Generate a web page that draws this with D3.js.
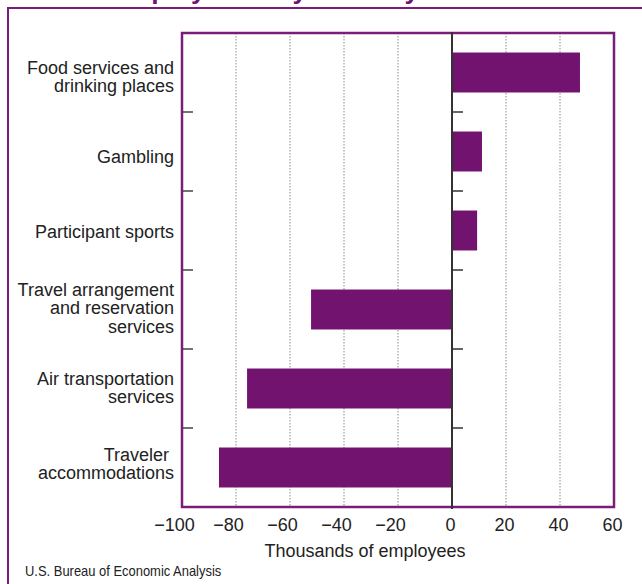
<!DOCTYPE html>
<html>
<head>
<meta charset="utf-8">
<script src="https://cdn.jsdelivr.net/npm/d3@7"></script>
<style>
  html, body { margin: 0; padding: 0; background: #fff; }
  svg { display: block; font-family: "Liberation Sans", Arial, Helvetica, sans-serif; }
</style>
</head>
<body>
<svg id="chart" width="642" height="584"></svg>
<script>
// Industries, top to bottom (each label line listed separately)
const categories = [
  ["Food services and", "drinking places"],
  ["Gambling"],
  ["Participant sports"],
  ["Travel arrangement", "and reservation", "services"],
  ["Air transportation", "services"],
  ["Traveler ", "accommodations"]
];
// Change in employment, thousands of employees
const values = [47.4, 11.1, 9.3, -52.2, -75.9, -86.3];
// Horizontal axis ticks
const xTicks = [-100, -80, -60, -40, -20, 0, 20, 40, 60];
const gridTicks = [-80, -60, -40, -20, 20, 40];

const titleText = "Tourism employment by industry";
const xTitle = "Thousands of employees";
const sourceText = "U.S. Bureau of Economic Analysis";

// Layout
const plot = { left: 182, right: 614, top: 33, bottom: 507 };
const labelRight = 174;
const labelSize = 18;
const lineGap = 18.4;
const labelNudge = [4.3, 4.8, 0.7, -1.6, -0.8, -4]; // vertical shifts of label blocks
const purple = "#731370";
const frame = "#7b1d78";
const ink = "#222";

const svg = d3.select("#chart");
const keys = categories.map(d => d.join(" "));

const x = d3.scaleLinear().domain([-100, 60]).range([plot.left, plot.right]);
const y = d3.scaleBand().domain(keys).range([plot.top, plot.bottom])
  .paddingInner(0.494).paddingOuter(0.247);

// Title (runs off the top of the page)
svg.append("text")
  .attr("x", 3).attr("y", -1.5)
  .attr("font-size", 26.5).attr("font-weight", "bold")
  .attr("fill", purple)
  .text(titleText);

// Outer border
svg.append("rect")
  .attr("x", 8).attr("y", 8).attr("width", 700).attr("height", 700)
  .attr("fill", "none").attr("stroke", frame).attr("stroke-width", 2);

// Dotted gridlines
svg.append("g").selectAll("line").data(gridTicks).join("line")
  .attr("x1", d => x(d)).attr("x2", d => x(d))
  .attr("y1", plot.top).attr("y2", plot.bottom)
  .attr("stroke", "#8a8a8a").attr("stroke-width", 1)
  .attr("stroke-dasharray", "1.5,1.5");

// Bars
svg.append("g").selectAll("rect").data(values).join("rect")
  .attr("x", d => x(Math.min(0, d)))
  .attr("width", d => Math.abs(x(d) - x(0)))
  .attr("y", (d, i) => y(keys[i]))
  .attr("height", y.bandwidth())
  .attr("fill", purple);

// Category boundary ticks
const step = y.step();
const bounds = d3.range(categories.length + 1).map(i => plot.top + i * step);
svg.append("g").selectAll("line").data(bounds).join("line")
  .attr("x1", plot.left).attr("x2", plot.left + 11)
  .attr("y1", d => d).attr("y2", d => d)
  .attr("stroke", "#444").attr("stroke-width", 1.5);
svg.append("g").selectAll("line").data(bounds).join("line")
  .attr("x1", x(0)).attr("x2", x(0) + 11)
  .attr("y1", d => d).attr("y2", d => d)
  .attr("stroke", "#333").attr("stroke-width", 1.5);

// Plot frame
svg.append("rect")
  .attr("x", plot.left).attr("y", plot.top)
  .attr("width", plot.right - plot.left).attr("height", plot.bottom - plot.top)
  .attr("fill", "none").attr("stroke", frame).attr("stroke-width", 2.5);

// Zero line
svg.append("line")
  .attr("x1", x(0)).attr("x2", x(0))
  .attr("y1", plot.top - 1).attr("y2", plot.bottom + 2)
  .attr("stroke", "#333").attr("stroke-width", 2);

// Category labels
const capH = 0.716 * labelSize;
const lab = svg.append("g")
  .attr("font-size", labelSize).attr("fill", ink)
  .attr("text-anchor", "end").style("white-space", "pre");
categories.forEach((lines, i) => {
  const c = y(keys[i]) + y.bandwidth() / 2 + labelNudge[i];
  const first = c - (capH + (lines.length - 1) * lineGap) / 2 + capH;
  const t = lab.append("text");
  lines.forEach((ln, j) => {
    t.append("tspan").attr("x", labelRight).attr("y", first + j * lineGap).text(ln);
  });
});

// Bottom axis labels
const axis = svg.append("g")
  .attr("transform", `translate(0,${plot.bottom})`)
  .call(d3.axisBottom(x).tickValues(xTicks).tickSize(0).tickPadding(11));
axis.select(".domain").remove();
axis.selectAll("text")
  .attr("font-size", 18).attr("fill", ink)
  .attr("font-family", "Liberation Sans, Arial, sans-serif")
  .attr("dx", d => d < 0 ? -8 : -2);

// Axis title
svg.append("text")
  .attr("x", 365).attr("y", 557)
  .attr("text-anchor", "middle")
  .attr("font-size", 18).attr("fill", ink)
  .text(xTitle);

// Source line
svg.append("text")
  .attr("transform", "translate(25,576) scale(0.925,1)")
  .attr("font-size", 14).attr("fill", ink)
  .text(sourceText);
</script>
</body>
</html>
